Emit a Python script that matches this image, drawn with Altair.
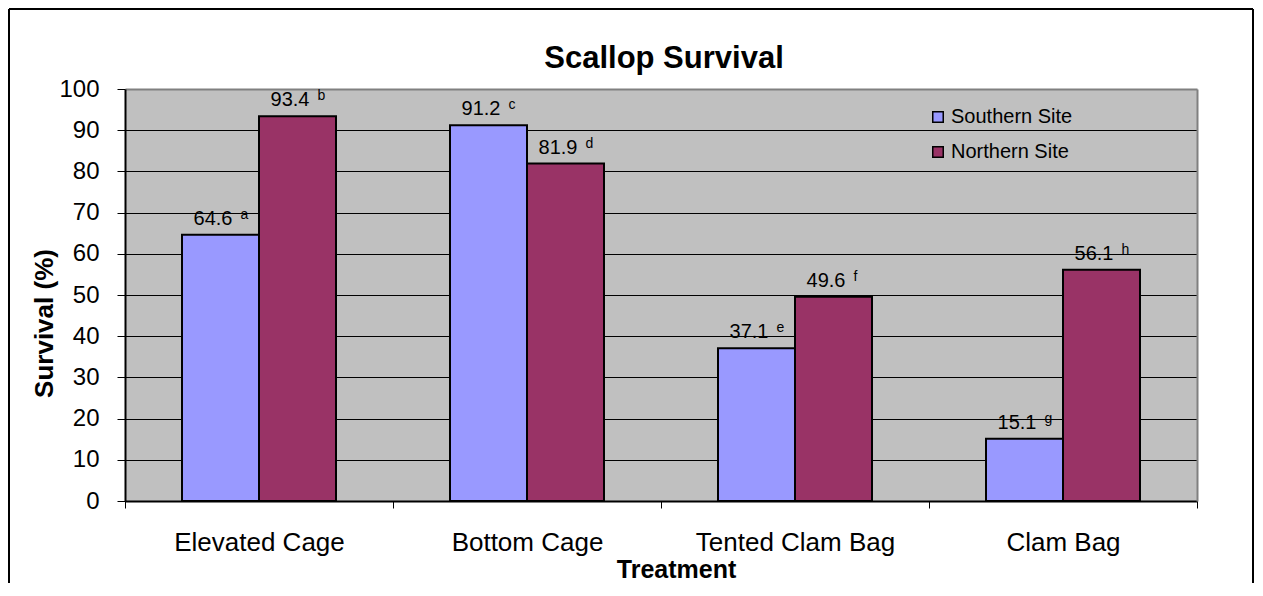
import altair as alt
import pandas as pd

# ---- data ----
treatments = ["Elevated Cage", "Bottom Cage", "Tented Clam Bag", "Clam Bag"]
sites = ["Southern Site", "Northern Site"]
southern = [64.6, 91.2, 37.1, 15.1]
northern = [93.4, 81.9, 49.6, 56.1]
southern_letters = ["a", "c", "e", "g"]
northern_letters = ["b", "d", "f", "h"]
y_ticks = [0, 10, 20, 30, 40, 50, 60, 70, 80, 90, 100]
site_colors = ["#9999FF", "#993366"]

rows = []
for i, t in enumerate(treatments):
    rows.append({"Treatment": t, "Site": sites[0], "Survival": southern[i], "Letter": southern_letters[i]})
    rows.append({"Treatment": t, "Site": sites[1], "Survival": northern[i], "Letter": northern_letters[i]})
df = pd.DataFrame(rows)
df["Label"] = df["Survival"].map(lambda v: f"{v:.1f}")

FONT = "Liberation Sans, Arial, sans-serif"
W, H = 1072, 412

# categories fill the full width; the bar pair is centred inside each category cell
x_scale = alt.Scale(paddingInner=0, paddingOuter=0)
xoff = alt.XOffset("Site:N", sort=sites, scale=alt.Scale(paddingInner=0, paddingOuter=0.7403))
y_scale = alt.Scale(domain=[0, 100], nice=False)

x_axis = alt.Axis(
    title="Treatment", titleFont=FONT, titleFontSize=25, titleFontWeight="bold",
    titleColor="black", titleX=551, titleY=76, titleBaseline="alphabetic", titleAlign="center",
    labelFont=FONT, labelFontSize=26, labelColor="black", labelAngle=0,
    labelBaseline="alphabetic", labelPadding=42, labelLimit=0,
    ticks=True, tickBand="extent", tickSize=7, tickColor="black", tickWidth=1,
    domainColor="black", domainWidth=2, grid=False,
)
y_axis = alt.Axis(
    values=y_ticks, title="Survival (%)", titleFont=FONT, titleFontSize=26,
    titleFontWeight="bold", titleColor="black", titleX=-73, titleY=234,
    titleBaseline="alphabetic", titleAlign="center", titleAngle=-90,
    labelFont=FONT, labelFontSize=24, labelColor="black", labelPadding=18,
    tickSize=8, tickColor="black", tickWidth=1,
    domainColor="black", domainWidth=2,
    grid=True,
    gridColor=alt.condition("datum.value === 100", alt.value("#808080"), alt.value("black")),
    gridWidth=alt.condition("datum.value === 100", alt.value(2), alt.value(1)),
)
y_axis_right = alt.Axis(
    orient="right", domainColor="#808080", domainWidth=2, ticks=False,
    labels=False, grid=False, title="",
)

base = alt.Chart(df)

bars = base.mark_bar(stroke="black", strokeWidth=2).encode(
    x=alt.X("Treatment:N", sort=treatments, scale=x_scale, axis=x_axis),
    xOffset=xoff,
    y=alt.Y("Survival:Q", scale=y_scale, axis=y_axis),
    color=alt.Color(
        "Site:N", sort=sites,
        scale=alt.Scale(domain=sites, range=site_colors),
        legend=alt.Legend(
            title="", orient="none", legendX=803, legendY=18,
            symbolType="square", symbolSize=110, symbolStrokeColor="black",
            symbolStrokeWidth=1.5, symbolOpacity=1,
            labelFont=FONT, labelFontSize=20, labelColor="black",
            rowPadding=15, labelOffset=3, padding=0,
        ),
    ),
)

numbers = base.mark_text(
    font=FONT, fontSize=20, color="black", align="right", baseline="alphabetic", dx=12, dy=-10
).encode(
    x=alt.X("Treatment:N", sort=treatments, scale=x_scale),
    xOffset=xoff,
    y=alt.Y("Survival:Q", scale=y_scale, axis=None),
    text="Label:N",
)

letters = base.mark_text(
    font=FONT, fontSize=14, color="black", align="left", baseline="alphabetic", dx=20, dy=-16
).encode(
    x=alt.X("Treatment:N", sort=treatments, scale=x_scale),
    xOffset=xoff,
    y=alt.Y("Survival:Q", scale=y_scale, axis=y_axis_right),
    text="Letter:N",
)

# outer black frame of the chart area (decoration)
frame_data = alt.Data(values=[{"k": 0}])
frame_left = alt.Chart(frame_data).mark_rule(color="black", strokeWidth=2).encode(
    x=alt.value(-116), y=alt.value(-80), y2=alt.value(494))
frame_right = alt.Chart(frame_data).mark_rule(color="black", strokeWidth=2).encode(
    x=alt.value(1128), y=alt.value(-80), y2=alt.value(494))
frame_top = alt.Chart(frame_data).mark_rule(color="black", strokeWidth=2).encode(
    x=alt.value(-116), x2=alt.value(1128), y=alt.value(-80))

chart = (
    alt.layer(bars, numbers, letters, frame_left, frame_right, frame_top)
    .resolve_axis(y="independent")
    .properties(
        width=W, height=H, padding=0, background="white",
        title=alt.Title(
            "Scallop Survival", font=FONT, fontSize=31, fontWeight="bold", color="black",
            anchor="middle", frame="group", baseline="alphabetic", offset=0, dy=91, dx=3,
        ),
    )
    .configure_view(fill="#C0C0C0", stroke="transparent")
)

chart.save("out.html", embed_options={"renderer": "svg", "actions": False})
